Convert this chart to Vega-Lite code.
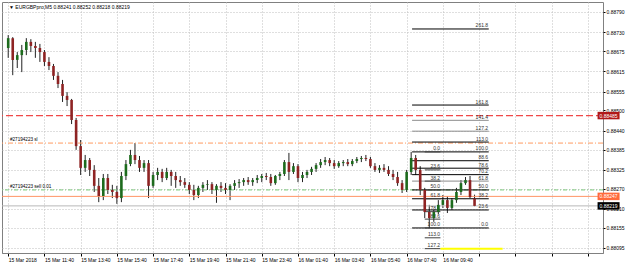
{
"$schema":"https://vega.github.io/schema/vega-lite/v6.json",
"width":601,"height":251,
"autosize":{"type":"none"},
"padding":{"left":2,"top":2,"right":22,"bottom":14},
"background":"#ffffff",
"config":{"view":{"stroke":"#808080","strokeWidth":1},"font":"Liberation Sans",
 "axis":{"labelOverlap":false,"labelBound":false,"labelFont":"Liberation Sans","labelFontSize":5,"labelColor":"#000000","grid":true,"gridDash":[1,2],"gridColor":"#bfbfbf","gridOpacity":1,"tickColor":"#000000","labelPadding":1,"title":null},
 "axisX":{"labelAlign":"left","labelFlush":false,"tickSize":3,"domainColor":"#808080"},
 "axisY":{"tickSize":2,"domain":false}},
"data":{"values":[{}]},
"datasets":{
"candles":[
{"t":"2018-03-15T09:40:00Z","o":0.88684,"h":0.88722,"l":0.88655,"c":0.88713},
{"t":"2018-03-15T09:55:00Z","o":0.88713,"h":0.88716,"l":0.88604,"c":0.88649},
{"t":"2018-03-15T10:10:00Z","o":0.88649,"h":0.88672,"l":0.88625,"c":0.88663},
{"t":"2018-03-15T10:25:00Z","o":0.88663,"h":0.88693,"l":0.88613,"c":0.88678},
{"t":"2018-03-15T10:40:00Z","o":0.88678,"h":0.88713,"l":0.88663,"c":0.88702},
{"t":"2018-03-15T10:55:00Z","o":0.88702,"h":0.88710,"l":0.88672,"c":0.88690},
{"t":"2018-03-15T11:10:00Z","o":0.88690,"h":0.88702,"l":0.88655,"c":0.88684},
{"t":"2018-03-15T11:25:00Z","o":0.88684,"h":0.88696,"l":0.88643,"c":0.88672},
{"t":"2018-03-15T11:40:00Z","o":0.88672,"h":0.88678,"l":0.88631,"c":0.88643},
{"t":"2018-03-15T11:55:00Z","o":0.88643,"h":0.88657,"l":0.88619,"c":0.88631},
{"t":"2018-03-15T12:10:00Z","o":0.88631,"h":0.88637,"l":0.88590,"c":0.88602},
{"t":"2018-03-15T12:25:00Z","o":0.88602,"h":0.88613,"l":0.88566,"c":0.88578},
{"t":"2018-03-15T12:40:00Z","o":0.88578,"h":0.88590,"l":0.88525,"c":0.88543},
{"t":"2018-03-15T12:55:00Z","o":0.88543,"h":0.88554,"l":0.88513,"c":0.88531},
{"t":"2018-03-15T13:10:00Z","o":0.88531,"h":0.88534,"l":0.88460,"c":0.88472},
{"t":"2018-03-15T13:25:00Z","o":0.88472,"h":0.88478,"l":0.88384,"c":0.88395},
{"t":"2018-03-15T13:40:00Z","o":0.88395,"h":0.88413,"l":0.88310,"c":0.88331},
{"t":"2018-03-15T13:55:00Z","o":0.88331,"h":0.88369,"l":0.88319,"c":0.88354},
{"t":"2018-03-15T14:10:00Z","o":0.88354,"h":0.88360,"l":0.88307,"c":0.88325},
{"t":"2018-03-15T14:25:00Z","o":0.88325,"h":0.88339,"l":0.88260,"c":0.88278},
{"t":"2018-03-15T14:40:00Z","o":0.88278,"h":0.88301,"l":0.88230,"c":0.88248},
{"t":"2018-03-15T14:55:00Z","o":0.88248,"h":0.88313,"l":0.88236,"c":0.88301},
{"t":"2018-03-15T15:10:00Z","o":0.88301,"h":0.88313,"l":0.88254,"c":0.88266},
{"t":"2018-03-15T15:25:00Z","o":0.88266,"h":0.88281,"l":0.88242,"c":0.88260},
{"t":"2018-03-15T15:40:00Z","o":0.88260,"h":0.88278,"l":0.88225,"c":0.88242},
{"t":"2018-03-15T15:55:00Z","o":0.88242,"h":0.88319,"l":0.88230,"c":0.88307},
{"t":"2018-03-15T16:10:00Z","o":0.88307,"h":0.88354,"l":0.88295,"c":0.88342},
{"t":"2018-03-15T16:25:00Z","o":0.88342,"h":0.88384,"l":0.88336,"c":0.88369},
{"t":"2018-03-15T16:40:00Z","o":0.88369,"h":0.88404,"l":0.88342,"c":0.88354},
{"t":"2018-03-15T16:55:00Z","o":0.88354,"h":0.88366,"l":0.88319,"c":0.88331},
{"t":"2018-03-15T17:10:00Z","o":0.88331,"h":0.88354,"l":0.88319,"c":0.88345},
{"t":"2018-03-15T17:25:00Z","o":0.88345,"h":0.88354,"l":0.88242,"c":0.88278},
{"t":"2018-03-15T17:40:00Z","o":0.88278,"h":0.88319,"l":0.88272,"c":0.88310},
{"t":"2018-03-15T17:55:00Z","o":0.88310,"h":0.88331,"l":0.88295,"c":0.88319},
{"t":"2018-03-15T18:10:00Z","o":0.88319,"h":0.88328,"l":0.88289,"c":0.88301},
{"t":"2018-03-15T18:25:00Z","o":0.88301,"h":0.88331,"l":0.88295,"c":0.88319},
{"t":"2018-03-15T18:40:00Z","o":0.88319,"h":0.88325,"l":0.88278,"c":0.88307},
{"t":"2018-03-15T18:55:00Z","o":0.88307,"h":0.88319,"l":0.88272,"c":0.88295},
{"t":"2018-03-15T19:10:00Z","o":0.88295,"h":0.88307,"l":0.88278,"c":0.88289},
{"t":"2018-03-15T19:25:00Z","o":0.88289,"h":0.88301,"l":0.88272,"c":0.88281},
{"t":"2018-03-15T19:40:00Z","o":0.88281,"h":0.88289,"l":0.88254,"c":0.88266},
{"t":"2018-03-15T19:55:00Z","o":0.88266,"h":0.88281,"l":0.88236,"c":0.88251},
{"t":"2018-03-15T20:10:00Z","o":0.88251,"h":0.88278,"l":0.88242,"c":0.88272},
{"t":"2018-03-15T20:25:00Z","o":0.88272,"h":0.88289,"l":0.88260,"c":0.88281},
{"t":"2018-03-15T20:40:00Z","o":0.88281,"h":0.88295,"l":0.88266,"c":0.88283},
{"t":"2018-03-15T20:55:00Z","o":0.88283,"h":0.88289,"l":0.88254,"c":0.88266},
{"t":"2018-03-15T21:10:00Z","o":0.88266,"h":0.88283,"l":0.88228,"c":0.88278},
{"t":"2018-03-15T21:25:00Z","o":0.88278,"h":0.88289,"l":0.88260,"c":0.88272},
{"t":"2018-03-15T21:40:00Z","o":0.88272,"h":0.88286,"l":0.88254,"c":0.88266},
{"t":"2018-03-15T21:55:00Z","o":0.88266,"h":0.88283,"l":0.88236,"c":0.88278},
{"t":"2018-03-15T22:10:00Z","o":0.88278,"h":0.88295,"l":0.88266,"c":0.88286},
{"t":"2018-03-15T22:25:00Z","o":0.88286,"h":0.88298,"l":0.88272,"c":0.88289},
{"t":"2018-03-15T22:40:00Z","o":0.88289,"h":0.88301,"l":0.88278,"c":0.88295},
{"t":"2018-03-15T22:55:00Z","o":0.88295,"h":0.88304,"l":0.88281,"c":0.88289},
{"t":"2018-03-15T23:10:00Z","o":0.88289,"h":0.88301,"l":0.88278,"c":0.88295},
{"t":"2018-03-15T23:25:00Z","o":0.88295,"h":0.88310,"l":0.88286,"c":0.88301},
{"t":"2018-03-15T23:40:00Z","o":0.88301,"h":0.88313,"l":0.88289,"c":0.88307},
{"t":"2018-03-15T23:55:00Z","o":0.88307,"h":0.88316,"l":0.88295,"c":0.88304},
{"t":"2018-03-16T00:10:00Z","o":0.88304,"h":0.88313,"l":0.88278,"c":0.88286},
{"t":"2018-03-16T00:25:00Z","o":0.88286,"h":0.88310,"l":0.88281,"c":0.88307},
{"t":"2018-03-16T00:40:00Z","o":0.88307,"h":0.88319,"l":0.88295,"c":0.88313},
{"t":"2018-03-16T00:55:00Z","o":0.88313,"h":0.88354,"l":0.88307,"c":0.88348},
{"t":"2018-03-16T01:10:00Z","o":0.88348,"h":0.88375,"l":0.88295,"c":0.88319},
{"t":"2018-03-16T01:25:00Z","o":0.88319,"h":0.88345,"l":0.88313,"c":0.88336},
{"t":"2018-03-16T01:40:00Z","o":0.88336,"h":0.88342,"l":0.88289,"c":0.88301},
{"t":"2018-03-16T01:55:00Z","o":0.88301,"h":0.88319,"l":0.88289,"c":0.88310},
{"t":"2018-03-16T02:10:00Z","o":0.88310,"h":0.88325,"l":0.88301,"c":0.88319},
{"t":"2018-03-16T02:25:00Z","o":0.88319,"h":0.88334,"l":0.88310,"c":0.88328},
{"t":"2018-03-16T02:40:00Z","o":0.88328,"h":0.88345,"l":0.88319,"c":0.88339},
{"t":"2018-03-16T02:55:00Z","o":0.88339,"h":0.88357,"l":0.88331,"c":0.88348},
{"t":"2018-03-16T03:10:00Z","o":0.88348,"h":0.88363,"l":0.88339,"c":0.88354},
{"t":"2018-03-16T03:25:00Z","o":0.88354,"h":0.88360,"l":0.88336,"c":0.88345},
{"t":"2018-03-16T03:40:00Z","o":0.88345,"h":0.88354,"l":0.88328,"c":0.88336},
{"t":"2018-03-16T03:55:00Z","o":0.88336,"h":0.88351,"l":0.88331,"c":0.88345},
{"t":"2018-03-16T04:10:00Z","o":0.88345,"h":0.88354,"l":0.88336,"c":0.88348},
{"t":"2018-03-16T04:25:00Z","o":0.88348,"h":0.88357,"l":0.88336,"c":0.88342},
{"t":"2018-03-16T04:40:00Z","o":0.88342,"h":0.88357,"l":0.88336,"c":0.88351},
{"t":"2018-03-16T04:55:00Z","o":0.88351,"h":0.88363,"l":0.88345,"c":0.88357},
{"t":"2018-03-16T05:10:00Z","o":0.88357,"h":0.88366,"l":0.88348,"c":0.88360},
{"t":"2018-03-16T05:25:00Z","o":0.88360,"h":0.88369,"l":0.88351,"c":0.88357},
{"t":"2018-03-16T05:40:00Z","o":0.88357,"h":0.88363,"l":0.88331,"c":0.88336},
{"t":"2018-03-16T05:55:00Z","o":0.88336,"h":0.88345,"l":0.88319,"c":0.88325},
{"t":"2018-03-16T06:10:00Z","o":0.88325,"h":0.88339,"l":0.88316,"c":0.88331},
{"t":"2018-03-16T06:25:00Z","o":0.88331,"h":0.88342,"l":0.88319,"c":0.88325},
{"t":"2018-03-16T06:40:00Z","o":0.88325,"h":0.88336,"l":0.88307,"c":0.88313},
{"t":"2018-03-16T06:55:00Z","o":0.88313,"h":0.88325,"l":0.88295,"c":0.88304},
{"t":"2018-03-16T07:10:00Z","o":0.88304,"h":0.88319,"l":0.88278,"c":0.88286},
{"t":"2018-03-16T07:25:00Z","o":0.88286,"h":0.88295,"l":0.88257,"c":0.88266},
{"t":"2018-03-16T07:40:00Z","o":0.88266,"h":0.88325,"l":0.88260,"c":0.88319},
{"t":"2018-03-16T07:55:00Z","o":0.88319,"h":0.88378,"l":0.88310,"c":0.88360},
{"t":"2018-03-16T08:10:00Z","o":0.88360,"h":0.88369,"l":0.88310,"c":0.88325},
{"t":"2018-03-16T08:25:00Z","o":0.88325,"h":0.88336,"l":0.88251,"c":0.88266},
{"t":"2018-03-16T08:40:00Z","o":0.88266,"h":0.88272,"l":0.88183,"c":0.88201},
{"t":"2018-03-16T08:55:00Z","o":0.88201,"h":0.88222,"l":0.88154,"c":0.88183},
{"t":"2018-03-16T09:10:00Z","o":0.88183,"h":0.88207,"l":0.88172,"c":0.88201},
{"t":"2018-03-16T09:25:00Z","o":0.88201,"h":0.88236,"l":0.88195,"c":0.88222},
{"t":"2018-03-16T09:40:00Z","o":0.88222,"h":0.88251,"l":0.88213,"c":0.88236},
{"t":"2018-03-16T09:55:00Z","o":0.88236,"h":0.88248,"l":0.88198,"c":0.88213},
{"t":"2018-03-16T10:10:00Z","o":0.88213,"h":0.88242,"l":0.88207,"c":0.88236},
{"t":"2018-03-16T10:25:00Z","o":0.88236,"h":0.88272,"l":0.88228,"c":0.88260},
{"t":"2018-03-16T10:40:00Z","o":0.88260,"h":0.88295,"l":0.88251,"c":0.88286},
{"t":"2018-03-16T10:55:00Z","o":0.88286,"h":0.88304,"l":0.88281,"c":0.88295},
{"t":"2018-03-16T11:10:00Z","o":0.88295,"h":0.88307,"l":0.88242,"c":0.88245},
{"t":"2018-03-16T11:25:00Z","o":0.88241,"h":0.88252,"l":0.88218,"c":0.88219}
],
"fibR":[
{"p":0.88154,"lab":"0.0","k":"a"},
{"p":0.88207,"lab":"23.6","k":"a"},
{"p":0.88240,"lab":"38.2","k":"a"},
{"p":0.88266,"lab":"50.0","k":"a"},
{"p":0.88292,"lab":"61.8","k":"b"},
{"p":0.88311,"lab":"70.2","k":"a"},
{"p":0.88330,"lab":"78.6","k":"a"},
{"p":0.88352,"lab":"88.6","k":"a"},
{"p":0.88378,"lab":"100.0","k":"a"},
{"p":0.88407,"lab":"113.0","k":"a"},
{"p":0.88439,"lab":"127.2","k":"b"},
{"p":0.88471,"lab":"141.4","k":"b"},
{"p":0.88516,"lab":"161.8","k":"a"},
{"p":0.88740,"lab":"261.8","k":"a"}
],
"fibL":[
{"p":0.88378,"lab":"0.0"},
{"p":0.88325,"lab":"23.6"},
{"p":0.88292,"lab":"38.2"},
{"p":0.88266,"lab":"50.0"},
{"p":0.88240,"lab":"61.8"},
{"p":0.88202,"lab":"78.6"},
{"p":0.88180,"lab":"88.6"},
{"p":0.88154,"lab":"100.0"},
{"p":0.88125,"lab":"113.0"},
{"p":0.88093,"lab":"127.2"}
],
"tags":[
{"p":0.88485,"lab":"0.88485","k":"r"},
{"p":0.88247,"lab":"0.88247","k":"o"},
{"p":0.88219,"lab":"0.88219","k":"b"}
]
},
"resolve":{"scale":{"color":"independent"},"axis":{"x":"independent","y":"independent"}},
"layer":[
{"data":{"name":"candles"},
 "mark":{"type":"rule","color":"#222222","strokeWidth":1,"clip":true},
 "encoding":{
  "x":{"field":"t","type":"temporal","title":null,"scale":{"type":"utc","domain":[1521106560000,1521224040000]},
   "axis":{"values":[1521106800000,1521114000000,1521121200000,1521128400000,1521135600000,1521142800000,1521150000000,1521157200000,1521164400000,1521171600000,1521178800000,1521186000000,1521193200000,1521200400000,1521207600000,1521214800000,1521222000000],
    "labelExpr":"time(datum.value) < 1521106900000 ? '15 Mar 2018' : (time(datum.value) > 1521193300000 ? '' : utcFormat(datum.value, '%d %b %H:%M'))","labelOverlap":false}},
  "y":{"field":"h","type":"quantitative","title":null,"scale":{"domain":[0.8808025,0.8881945],"zero":false,"nice":false},
   "axis":{"orient":"right","values":[0.8879,0.8873,0.88675,0.88615,0.88555,0.885,0.8844,0.88385,0.88325,0.8827,0.8821,0.88155,0.88095],"format":".5f","labelOverlap":false}},
  "y2":{"field":"l"}}},
{"mark":{"type":"rule","stroke":"#f04848","strokeWidth":1.2,"strokeDash":[7,3]},
 "encoding":{"y":{"datum":0.88485,"type":"quantitative","scale":{"domain":[0.8808025,0.8881945],"zero":false,"nice":false},"axis":null}}},
{"mark":{"type":"rule","stroke":"#ff9a60","strokeWidth":1,"strokeDash":[5,2,1,2]},
 "encoding":{"y":{"datum":0.88404,"type":"quantitative","scale":{"domain":[0.8808025,0.8881945],"zero":false,"nice":false},"axis":null}}},
{"mark":{"type":"rule","stroke":"#7ccc7c","strokeWidth":1,"strokeDash":[4,2,1,2]},
 "encoding":{"y":{"datum":0.88266,"type":"quantitative","scale":{"domain":[0.8808025,0.8881945],"zero":false,"nice":false},"axis":null}}},
{"mark":{"type":"rule","stroke":"#ff9466","strokeWidth":1},
 "encoding":{"y":{"datum":0.88247,"type":"quantitative","scale":{"domain":[0.8808025,0.8881945],"zero":false,"nice":false},"axis":null}}},
{"mark":{"type":"rule","stroke":"#b8b8b8","strokeWidth":1},
 "encoding":{"y":{"datum":0.88219,"type":"quantitative","scale":{"domain":[0.8808025,0.8881945],"zero":false,"nice":false},"axis":null}}},
{"data":{"name":"fibR"},
 "mark":{"type":"rule","strokeWidth":1},
 "encoding":{
  "x":{"datum":{"year":2018,"month":3,"date":16,"hours":7,"minutes":58,"utc":true},"type":"temporal","scale":{"type":"utc","domain":[1521106560000,1521224040000]},"axis":null},
  "x2":{"datum":{"year":2018,"month":3,"date":16,"hours":12,"minutes":12,"utc":true}},
  "y":{"field":"p","type":"quantitative","scale":{"domain":[0.8808025,0.8881945],"zero":false,"nice":false},"axis":null},
  "color":{"field":"k","type":"nominal","scale":{"domain":["a","b"],"range":["#000000","#8c8c8c"]},"legend":null}}},
{"data":{"name":"fibR"},
 "mark":{"type":"text","align":"right","baseline":"bottom","dy":-0.5,"fontSize":5,"color":"#333333"},
 "encoding":{
  "x":{"datum":{"year":2018,"month":3,"date":16,"hours":12,"minutes":10,"utc":true},"type":"temporal","scale":{"type":"utc","domain":[1521106560000,1521224040000]},"axis":null},
  "y":{"field":"p","type":"quantitative","scale":{"domain":[0.8808025,0.8881945],"zero":false,"nice":false},"axis":null},
  "text":{"field":"lab"}}},
{"data":{"name":"fibL"},
 "mark":{"type":"rule","strokeWidth":1,"color":"#404040"},
 "encoding":{
  "x":{"datum":{"year":2018,"month":3,"date":16,"hours":8,"minutes":40,"utc":true},"type":"temporal","scale":{"type":"utc","domain":[1521106560000,1521224040000]},"axis":null},
  "x2":{"datum":{"year":2018,"month":3,"date":16,"hours":9,"minutes":32,"utc":true}},
  "y":{"field":"p","type":"quantitative","scale":{"domain":[0.8808025,0.8881945],"zero":false,"nice":false},"axis":null}}},
{"mark":{"type":"rule","strokeWidth":2,"color":"#ffff00"},
 "encoding":{
  "x":{"datum":{"year":2018,"month":3,"date":16,"hours":9,"minutes":32,"utc":true},"type":"temporal","scale":{"type":"utc","domain":[1521106560000,1521224040000]},"axis":null},
  "x2":{"datum":{"year":2018,"month":3,"date":16,"hours":12,"minutes":58,"utc":true}},
  "y":{"datum":0.88093,"type":"quantitative","scale":{"domain":[0.8808025,0.8881945],"zero":false,"nice":false},"axis":null}}},
{"data":{"name":"fibL"},
 "mark":{"type":"text","align":"right","baseline":"bottom","dy":-0.5,"fontSize":5,"color":"#333333"},
 "encoding":{
  "x":{"datum":{"year":2018,"month":3,"date":16,"hours":9,"minutes":31,"utc":true},"type":"temporal","scale":{"type":"utc","domain":[1521106560000,1521224040000]},"axis":null},
  "y":{"field":"p","type":"quantitative","scale":{"domain":[0.8808025,0.8881945],"zero":false,"nice":false},"axis":null},
  "text":{"field":"lab"}}},
{"data":{"name":"candles"},
 "mark":{"type":"bar","size":2.6,"clip":true},
 "encoding":{
  "x":{"field":"t","type":"temporal","scale":{"type":"utc","domain":[1521106560000,1521224040000]},"axis":null},
  "y":{"field":"o","type":"quantitative","scale":{"domain":[0.8808025,0.8881945],"zero":false,"nice":false},"axis":null},
  "y2":{"field":"c"},
  "color":{"condition":{"test":"datum.c >= datum.o","value":"#1d6b1d"},"value":"#8e2323"}}},
{"mark":{"type":"text","align":"left","baseline":"middle","dx":2,"fontSize":5,"color":"#000000"},
 "encoding":{
  "x":{"datum":{"year":2018,"month":3,"date":15,"hours":9,"minutes":36,"utc":true},"type":"temporal","scale":{"type":"utc","domain":[1521106560000,1521224040000]},"axis":null},
  "y":{"datum":0.88805,"type":"quantitative","scale":{"domain":[0.8808025,0.8881945],"zero":false,"nice":false},"axis":null},
  "text":{"value":"▼ EURGBPpro,M5  0.88241 0.88252 0.88218 0.88219"}}},
{"mark":{"type":"text","align":"left","baseline":"bottom","dx":3,"dy":-1,"fontSize":4.6,"color":"#000000"},
 "encoding":{
  "x":{"datum":{"year":2018,"month":3,"date":15,"hours":9,"minutes":36,"utc":true},"type":"temporal","scale":{"type":"utc","domain":[1521106560000,1521224040000]},"axis":null},
  "y":{"datum":0.88404,"type":"quantitative","scale":{"domain":[0.8808025,0.8881945],"zero":false,"nice":false},"axis":null},
  "text":{"value":"#27194223 sl"}}},
{"mark":{"type":"text","align":"left","baseline":"bottom","dx":3,"dy":-1,"fontSize":4.6,"color":"#000000"},
 "encoding":{
  "x":{"datum":{"year":2018,"month":3,"date":15,"hours":9,"minutes":36,"utc":true},"type":"temporal","scale":{"type":"utc","domain":[1521106560000,1521224040000]},"axis":null},
  "y":{"datum":0.88266,"type":"quantitative","scale":{"domain":[0.8808025,0.8881945],"zero":false,"nice":false},"axis":null},
  "text":{"value":"#27194223 sell 0.01"}}},
{"data":{"name":"tags"},
 "mark":{"type":"point","filled":true,"opacity":1,"shape":"M-1,-0.34L1,-0.34L1,0.34L-1,0.34Z","size":484,"clip":false},
 "encoding":{
  "x":{"datum":{"year":2018,"month":3,"date":16,"hours":18,"minutes":49,"utc":true},"type":"temporal","scale":{"type":"utc","domain":[1521106560000,1521224040000]},"axis":null},
  "y":{"field":"p","type":"quantitative","scale":{"domain":[0.8808025,0.8881945],"zero":false,"nice":false},"axis":null},
  "color":{"field":"k","type":"nominal","scale":{"domain":["r","o","b"],"range":["#b01818","#ff6a3a","#000000"]},"legend":null}}},
{"data":{"name":"tags"},
 "mark":{"type":"text","align":"center","baseline":"middle","fontSize":5,"color":"#ffffff","clip":false},
 "encoding":{
  "x":{"datum":{"year":2018,"month":3,"date":16,"hours":18,"minutes":49,"utc":true},"type":"temporal","scale":{"type":"utc","domain":[1521106560000,1521224040000]},"axis":null},
  "y":{"field":"p","type":"quantitative","scale":{"domain":[0.8808025,0.8881945],"zero":false,"nice":false},"axis":null},
  "text":{"field":"lab"}}}
]
}
